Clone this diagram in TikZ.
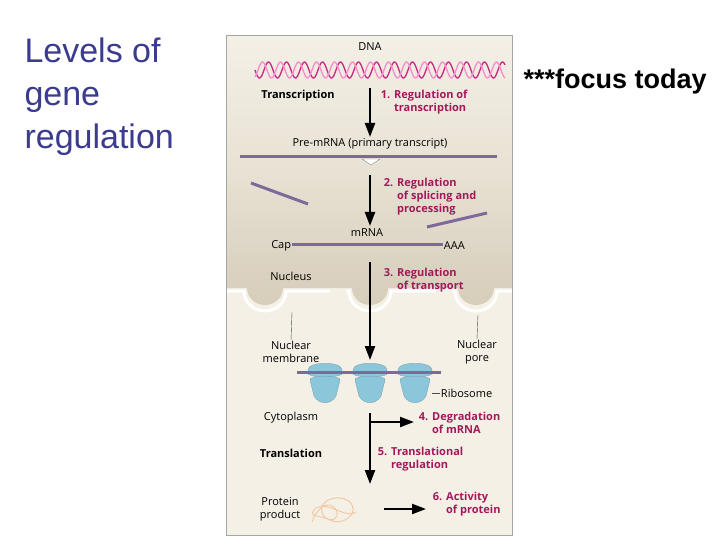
\documentclass[tikz,border=0pt]{standalone}
\usepackage{fontspec}
\setmainfont{Liberation Sans}
\newfontfamily\figfont{Open Sans}
\usetikzlibrary{arrows.meta}
\definecolor{titleblue}{HTML}{3B3B8F}
\definecolor{regmag}{HTML}{A3195B}
\definecolor{rnapurple}{HTML}{7E6A9A}
\definecolor{panelcream}{HTML}{F4F0E6}
\definecolor{nuctan}{HTML}{D6CDBA}
\definecolor{ribblue}{HTML}{8CC6DA}
\definecolor{protorange}{HTML}{F2C7A0}
\tikzset{
  lbl/.style={font=\figfont\fontsize{11}{13}\selectfont, inner sep=0.75pt, align=left},
  reg/.style={lbl, text=regmag, font=\figfont\bfseries\fontsize{11}{13}\selectfont},
  steparrow/.style={-{Triangle[length=14pt,width=10pt]}, line width=2.2pt},
  rna/.style={rnapurple, line width=3pt},
  rib/.style={fill=ribblue, draw=ribblue!80!black, line width=0.3pt}
}
\begin{document}
\begin{tikzpicture}[x=1pt,y=1pt,yscale=-1]
\useasboundingbox (0,0) rectangle (720,540);
\fill[white] (0,0) rectangle (720,540);

% title texts
\node[anchor=north west, align=left, text=titleblue, font=\fontsize{34}{43}\selectfont] (title) at (21,34) {Levels of\\gene\\regulation};
\node[anchor=west, font=\bfseries\fontsize{27}{30}\selectfont] (focus) at (520,82) {***focus today};

% panel
\fill[panelcream] (226,35) rectangle (512,535);
% nucleus with scalloped membrane
\shade[top color=panelcream, bottom color=nuctan, middle color=panelcream!60!nuctan]
  (226,35) -- (512,35) -- (512,288) -- (494,288)
  arc[start angle=0, end angle=180, x radius=18, y radius=17] -- (388,288)
  arc[start angle=0, end angle=180, x radius=18, y radius=17] -- (283,288)
  arc[start angle=0, end angle=180, x radius=18, y radius=17] -- (226,288) -- cycle;
\draw[white, line width=3pt]
  (226,291) -- (244,291) arc[start angle=180, end angle=0, x radius=21, y radius=20] -- (330,291)
  (346,291) -- (349,291) arc[start angle=180, end angle=0, x radius=21, y radius=20] -- (436,291)
  (452,291) -- (455,291) arc[start angle=180, end angle=0, x radius=21, y radius=20] -- (512,291);
\draw[gray!70, line width=0.8pt] (226,35) rectangle (512,535);

% DNA
\draw[magenta!80!black, line width=1.3pt, domain=255:505, samples=400] plot (\x,{70+8*sin(20*(\x-255))});
\draw[magenta!45, line width=1.3pt, domain=255:505, samples=400] plot (\x,{70+8*sin(20*(\x-255)+120)});

% RNA strands
\draw[rna] (240,157) -- (497,157);
\draw[gray, line width=0.4pt, fill=white] (362,159) -- (380,159) -- (371,165) -- cycle;
\draw[rna] (251,183) -- (308,204);
\draw[rna] (427,227) -- (487,213);
\draw[rna] (292,244) -- (443,244);

% ribosomes
\foreach \rx in {325,370,415} {
  \draw[rib] (\rx-17,370) .. controls (\rx-17,361) and (\rx+17,361) .. (\rx+17,370) -- (\rx+17,374) .. controls (\rx+13,378) and (\rx-13,378) .. (\rx-17,374) -- cycle;
  \draw[rib] (\rx-15,380) .. controls (\rx-17,375) and (\rx+17,375) .. (\rx+15,380) -- (\rx+11,396) .. controls (\rx+6,405) and (\rx-6,405) .. (\rx-11,396) -- cycle;
}
\draw[rna] (297,372) -- (441,372);

% protein
\draw[protorange, line width=0.9pt] (312,522) .. controls (318,505) and (330,500) .. (336,510) .. controls (342,520) and (325,525) .. (322,512) .. controls (318,498) and (345,492) .. (352,505) .. controls (358,516) and (340,526) .. (330,520) .. controls (322,515) and (305,518) .. (316,508) .. controls (326,500) and (348,520) .. (356,512);

% labels
\node[lbl] (dna) at (370,47) {DNA};
\node[lbl, font=\figfont\bfseries\fontsize{11}{13}\selectfont] (transcr) at (298,96) {Transcription};
\node[reg, anchor=north west] (reg1) at (380,89) {1. Regulation of\\\phantom{1. }transcription};
\node[lbl] (premrna) at (370,144) {Pre-mRNA (primary transcript)};
\node[reg, anchor=north west] (reg2) at (383,177) {2. Regulation\\\phantom{2. }of splicing and\\\phantom{2. }processing};
\node[lbl] (mrna) at (367,233) {mRNA};
\node[lbl, anchor=east] (cap) at (292,246) {Cap};
\node[lbl, anchor=west] (aaa) at (443,246) {AAA};
\node[lbl] (nucleus) at (291,276) {Nucleus};
\node[reg, anchor=north west] (reg3) at (383,267) {3. Regulation\\\phantom{3. }of transport};
\node[lbl, align=center] (membrane) at (291,352) {Nuclear\\membrane};
\node[lbl, align=center] (pore) at (477,352) {Nuclear\\pore};
\node[lbl, anchor=west] (ribosome) at (440,393) {Ribosome};
\node[lbl] (cytoplasm) at (291,418) {Cytoplasm};
\node[reg, anchor=north west] (reg4) at (418,411) {4. Degradation\\\phantom{4. }of mRNA};
\node[lbl, font=\figfont\bfseries\fontsize{11}{13}\selectfont] (transl) at (291,453) {Translation};
\node[reg, anchor=north west] (reg5) at (377,446) {5. Translational\\\phantom{5. }regulation};
\node[lbl, align=center] (protein) at (280,509) {Protein\\product};
\node[reg, anchor=north west] (reg6) at (432,491) {6. Activity\\\phantom{6. }of protein};

% pointer lines
\coordinate (memtop) at (292,312);
\coordinate (poretop) at (478,315);
\draw[gray!60!black, line width=0.4pt] (memtop) -- (membrane.north);
\draw[gray!60!black, line width=0.4pt] (poretop) -- (pore.north);
\draw[gray!60!black, line width=0.4pt] (ribosome.west) -- ++(-8,0);

% step arrows
\coordinate (a1s) at (370,88);  \coordinate (a1e) at (370,137);
\coordinate (a2s) at (370,175); \coordinate (a2e) at (370,226);
\coordinate (a3s) at (370,262); \coordinate (a3e) at (370,360);
\coordinate (a4s) at (370,413); \coordinate (a4e) at (370,484);
\coordinate (b4s) at (370,422); \coordinate (b4e) at (414,422);
\coordinate (a6s) at (384,509); \coordinate (a6e) at (426,509);
\draw[steparrow] (a1s) -- (a1e);
\draw[steparrow] (a2s) -- (a2e);
\draw[steparrow] (a3s) -- (a3e);
\draw[steparrow] (a4s) -- (a4e);
\draw[steparrow] (b4s) -- (b4e);
\draw[steparrow] (a6s) -- (a6e);
\end{tikzpicture}
\end{document}
